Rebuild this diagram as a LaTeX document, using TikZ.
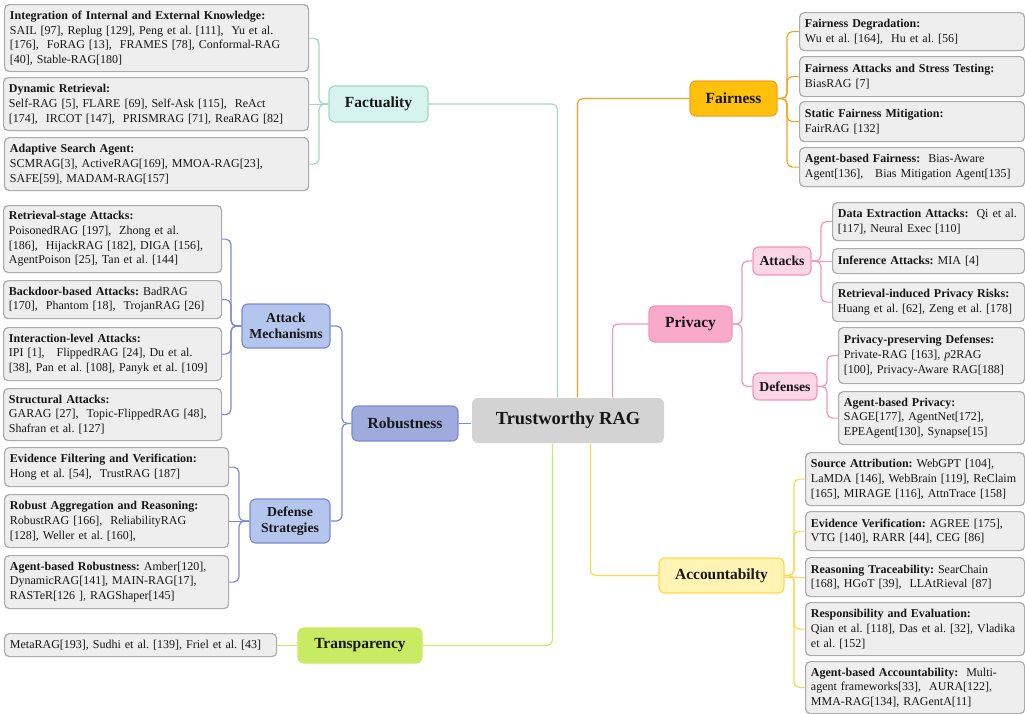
\documentclass[tikz,border=0pt]{standalone}
\usepackage{fontspec}
\setmainfont{Liberation Serif}
\hyphenpenalty=10000
\definecolor{leafF}{HTML}{EEEEEE}
\definecolor{leafD}{HTML}{ABABAB}
\definecolor{txt}{HTML}{161616}
\definecolor{rootF}{HTML}{D3D3D3}
\definecolor{robF}{HTML}{A0AADC}
\definecolor{robD}{HTML}{7C8AD2}
\definecolor{subbF}{HTML}{B5C6EE}
\definecolor{factF}{HTML}{D6F3EF}
\definecolor{factD}{HTML}{9FD9C0}
\definecolor{fairF}{HTML}{FFC10C}
\definecolor{fairD}{HTML}{F7A21B}
\definecolor{privF}{HTML}{F9A9CA}
\definecolor{privD}{HTML}{F693BC}
\definecolor{subpF}{HTML}{FDD6E6}
\definecolor{accF}{HTML}{FFF4B3}
\definecolor{accD}{HTML}{FFD84A}
\definecolor{trF}{HTML}{C9EB63}
\definecolor{trD}{HTML}{C9EB63}
\newcommand\leaffont{\fontsize{9}{11}\selectfont\frenchspacing}
\newcommand\leafbox[6]{%
  \pgfmathsetmacro\LBw{(#4-#2)*0.75}%
  \pgfmathsetmacro\LBh{(#5-#3)*0.75}%
  \pgfmathsetmacro\LBt{\LBw-8}%
  \node[leaf,minimum width=\LBw pt,minimum height=\LBh pt,text width=\LBt pt,anchor=north west] (#1) at (#2,#3) {#6};}
\newcommand\catbox[7]{%
  \pgfmathsetmacro\LBw{(#4-#2)*0.75}%
  \pgfmathsetmacro\LBh{(#5-#3)*0.75}%
  \node[#6,minimum width=\LBw pt,minimum height=\LBh pt] (#1) at ({(#2+#4)/2},{(#3+#5)/2}) {#7};}
\tikzset{
  leaf/.style={draw=leafD,fill=leafF,line width=0.9pt,rounded corners=3.5pt,inner xsep=4pt,inner ysep=0pt,
    align=left,text=txt,font=\leaffont},
  cat/.style={rounded corners=4.5pt,line width=0.9pt,align=center,text=txt,inner sep=0pt,
    font=\fontsize{11.6}{13}\selectfont\bfseries},
  subcat/.style={cat,font=\fontsize{10.3}{12}\selectfont\bfseries},
  rootbox/.style={cat,fill=rootF,font=\fontsize{13.8}{16}\selectfont\bfseries},
  conn/.style={line width=0.9pt,rounded corners=4pt},
}
\begin{document}
\begin{tikzpicture}[x=0.75pt,y=-0.75pt]
\useasboundingbox (0,0) rectangle (1025,714);
% main nodes
\catbox{root}{472}{398}{664}{443}{rootbox}{Trustworthy RAG}
\catbox{rob}{352}{406}{458}{441}{cat,fill=robF,draw=robD}{Robustness}
\catbox{att}{242}{304}{330}{348}{subcat,fill=subbF,draw=robD}{Attack\\Mechanisms}
\catbox{def}{250}{499}{330}{543}{subcat,fill=subbF,draw=robD}{Defense\\Strategies}
\catbox{fact}{329}{86}{428}{122}{cat,fill=factF,draw=factD}{Factuality}
\catbox{fair}{690}{81}{777}{116}{cat,fill=fairF,draw=fairD}{Fairness}
\catbox{priv}{649}{306}{732}{342}{cat,fill=privF,draw=privD}{Privacy}
\catbox{patt}{753}{247}{811}{275}{subcat,fill=subpF,draw=privD}{Attacks}
\catbox{pdef}{753}{373}{817}{400}{subcat,fill=subpF,draw=privD}{Defenses}
\catbox{acc}{659}{558}{784}{593}{cat,fill=accF,draw=accD}{Accountabilty}
\catbox{trans}{298}{628}{422}{663}{cat,fill=trF,draw=trD}{Transparency}
% factuality leaves
\leafbox{F1}{4}{4}{308}{71}{\textbf{Integration of Internal and External Knowledge:}\\SAIL [97], Replug [129], Peng et al. [111],\ \ Yu et al.\\{}[176],\ \ FoRAG [13],\ \ FRAMES [78], Conformal-RAG\\{}[40], Stable-RAG[180]}
\leafbox{F2}{3}{77}{308}{130}{\textbf{Dynamic Retrieval:}\\Self-RAG [5], FLARE [69], Self-Ask [115],\ \ ReAct\\{}[174],\ \ IRCOT [147],\ \ PRISMRAG [71], ReaRAG [82]}
\leafbox{F3}{4}{137}{308}{190}{\textbf{Adaptive Search Agent:}\\SCMRAG[3], ActiveRAG[169], MMOA-RAG[23],\\SAFE[59], MADAM-RAG[157]}
% attack leaves
\leafbox{A1}{3}{205}{221}{272}{\textbf{Retrieval-stage Attacks:}\\PoisonedRAG [197],\ \ Zhong et al.\\{}[186],\ \ HijackRAG [182], DIGA [156],\\AgentPoison [25], Tan et al. [144]}
\leafbox{A2}{3}{280}{221}{318}{\textbf{Backdoor-based Attacks:} BadRAG\\{}[170],\ \ Phantom [18],\ \ TrojanRAG [26]}
\leafbox{A3}{3}{327}{221}{380}{\textbf{Interaction-level Attacks:}\\IPI [1],\ \ \ FlippedRAG [24], Du et al.\\{}[38], Pan et al. [108], Panyk et al. [109]}
\leafbox{A4}{3}{388}{221}{440}{\textbf{Structural Attacks:}\\GARAG [27],\ \ Topic-FlippedRAG [48],\\Shafran et al. [127]}
% defense leaves
\leafbox{D1}{4}{447}{228}{486}{\textbf{Evidence Filtering and Verification:}\\Hong et al. [54],\ \ TrustRAG [187]}
\leafbox{D2}{4}{494}{228}{547}{\textbf{Robust Aggregation and Reasoning:}\\RobustRAG [166],\ \ ReliabilityRAG\\{}[128], Weller et al. [160],}
\leafbox{D3}{4}{555}{228}{608}{\textbf{Agent-based Robustness:} Amber[120],\\DynamicRAG[141], MAIN-RAG[17],\\RASTeR[126 ], RAGShaper[145]}
% transparency leaf
\leafbox{T1}{4}{633}{276}{656}{MetaRAG[193], Sudhi et al. [139], Friel et al. [43]}
% fairness leaves
\leafbox{FA1}{799}{12}{1024}{50}{\textbf{Fairness Degradation:}\\Wu et al. [164],\ \ Hu et al. [56]}
\leafbox{FA2}{799}{56}{1024}{96}{\textbf{Fairness Attacks and Stress Testing:}\\BiasRAG [7]}
\leafbox{FA3}{799}{101}{1024}{141}{\textbf{Static Fairness Mitigation:}\\FairRAG [132]}
\leafbox{FA4}{799}{147}{1024}{186}{\textbf{Agent-based Fairness:}\ \ Bias-Aware\\Agent[136],\ \ \ Bias Mitigation Agent[135]}
% privacy leaves
\leafbox{PA1}{832}{202}{1024}{240}{\textbf{Data Extraction Attacks:}\ \ Qi et al.\\{}[117], Neural Exec [110]}
\leafbox{PA2}{832}{248}{1024}{273}{\textbf{Inference Attacks:} MIA [4]}
\leafbox{PA3}{832}{282}{1024}{321}{\textbf{Retrieval-induced Privacy Risks:}\\Huang et al. [62], Zeng et al. [178]}
\leafbox{PD1}{838}{327}{1024}{383}{\textbf{Privacy-preserving Defenses:}\\Private-RAG [163], \textit{p}2RAG\\{}[100], Privacy-Aware RAG[188]}
\leafbox{PD2}{838}{391}{1024}{444}{\textbf{Agent-based Privacy:}\\SAGE[177], AgentNet[172],\\EPEAgent[130], Synapse[15]}
% accountability leaves
\leafbox{AC1}{805}{452}{1024}{505}{\textbf{Source Attribution:} WebGPT [104],\\LaMDA [146], WebBrain [119], ReClaim\\{}[165], MIRAGE [116], AttnTrace [158]}
\leafbox{AC2}{805}{511}{1024}{550}{\textbf{Evidence Verification:} AGREE [175],\\VTG [140], RARR [44], CEG [86]}
\leafbox{AC3}{805}{557}{1024}{596}{\textbf{Reasoning Traceability:} SearChain\\{}[168], HGoT [39],\ \ LLAtRieval [87]}
\leafbox{AC4}{805}{602}{1024}{655}{\textbf{Responsibility and Evaluation:}\\Qian et al. [118], Das et al. [32], Vladika\\et al. [152]}
\leafbox{AC5}{805}{661}{1024}{713}{\textbf{Agent-based Accountability:}\ \ Multi-\\agent frameworks[33],\ \ AURA[122],\\MMA-RAG[134], RAGentA[11]}
% bracket coordinates
\coordinate (bF) at (319,0);
\coordinate (bA) at (231,0);
\coordinate (bD) at (239,0);
\coordinate (bR) at (342,0);
\coordinate (bFa) at (787,0);
\coordinate (bP) at (742,0);
\coordinate (bPA) at (821,0);
\coordinate (bPD) at (827,0);
\coordinate (bAc) at (794,0);
% factuality
\foreach \l in {F1,F3} \draw[conn,factD] (\l.east) -- (\l.east -| bF) |- (fact.west);
\draw[conn,factD] (F2.east) -- (F2.east -| fact.west);
\draw[conn,factD] (fact.east) -| ([xshift=64.5pt]root.north west);
% robustness
\foreach \l in {A1,A2,A3,A4} \draw[conn,robD] (\l.east) -- (\l.east -| bA) |- (att.west);
\foreach \l in {D1,D3} \draw[conn,robD] (\l.east) -- (\l.east -| bD) |- (def.west);
\draw[conn,robD] (D2.east) -- (D2.east -| def.west);
\foreach \l in {att,def} \draw[conn,robD] (\l.east) -- (\l.east -| bR) |- (rob.west);
\draw[conn,robD] (rob.east) -- (rob.east -| root.west);
% transparency
\draw[conn,trD] (T1.east) -- (T1.east -| trans.west);
\draw[conn,trD] (trans.east) -| ([xshift=60.75pt]root.south west);
% fairness
\foreach \l in {FA1,FA2,FA3,FA4} \draw[conn,fairD] (\l.west) -- (\l.west -| bFa) |- (fair.east);
\draw[conn,fairD] (fair.west) -| ([xshift=79.5pt]root.north west);
% privacy
\foreach \l in {patt,pdef} \draw[conn,privD] (\l.west) -- (\l.west -| bP) |- (priv.east);
\foreach \l in {PA1,PA3} \draw[conn,privD] (\l.west) -- (\l.west -| bPA) |- (patt.east);
\draw[conn,privD] (PA2.west) -- (PA2.west -| patt.east);
\foreach \l in {PD1,PD2} \draw[conn,privD] (\l.west) -- (\l.west -| bPD) |- (pdef.east);
\draw[conn,privD] (priv.west) -| ([xshift=105.75pt]root.north west);
% accountability
\foreach \l in {AC1,AC2,AC4,AC5} \draw[conn,accD] (\l.west) -- (\l.west -| bAc) |- (acc.east);
\draw[conn,accD] (AC3.west) -- (AC3.west -| acc.east);
\draw[conn,accD] (acc.west) -| ([xshift=89.25pt]root.south west);
\end{tikzpicture}
\end{document}
